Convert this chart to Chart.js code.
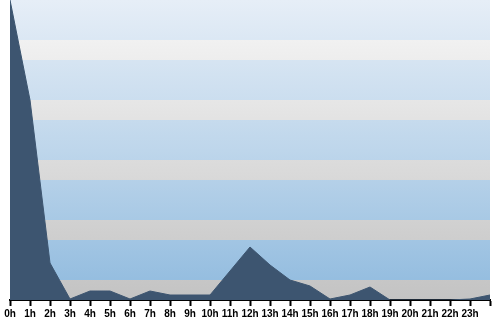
<!DOCTYPE html>
<html><head><meta charset="utf-8">
<script src="https://cdn.jsdelivr.net/npm/chart.js@4/dist/chart.umd.min.js"></script>
<style>html,body{margin:0;padding:0;background:#fff}#wrap{width:500px;height:320px}</style>
</head><body><div id="wrap"><canvas id="c" width="500" height="320"></canvas></div>
<script>
const hours = [0,1,2,3,4,5,6,7,8,9,10,11,12,13,14,15,16,17,18,19,20,21,22,23,24];
const values = [300,200,37,1,9,9,1,9,5,5,5,29,53,35,20,14,1,5,13,0,0,0,0,1,5];
const tickSuffix = 'h';

const bandPlugin = {
  id:'bands',
  beforeDraw(chart){
    const {ctx, chartArea:a} = chart;
    const h = a.bottom - a.top;
    const blue = ctx.createLinearGradient(0,a.top,0,a.bottom);
    blue.addColorStop(0,'#e6eef7'); blue.addColorStop(0.5,'#bed6eb'); blue.addColorStop(1,'#8fbade');
    const gray = ctx.createLinearGradient(0,a.top,0,a.bottom);
    gray.addColorStop(0,'#f8f8f8'); gray.addColorStop(1,'#c3c3c3');
    ctx.save();
    const n = 5, period = h/n;
    for(let i=0;i<n;i++){
      const y0 = a.top + i*period;
      ctx.fillStyle = blue; ctx.fillRect(a.left,y0,a.right-a.left,period*2/3);
      ctx.fillStyle = gray; ctx.fillRect(a.left,y0+period*2/3,a.right-a.left,period/3);
    }
    ctx.restore();
  }
};

new Chart(document.getElementById('c'),{
  type:'line',
  data:{datasets:[{data:hours.map((h,i)=>({x:h,y:values[i]})),
    borderColor:'#3d5570',backgroundColor:'#3d5570',borderWidth:1,fill:'origin',pointRadius:0,tension:0}]},
  options:{
    responsive:false,animation:false,
    layout:{padding:{left:10,right:10,top:0,bottom:0}},
    plugins:{legend:{display:false},tooltip:{enabled:false}},
    scales:{
      x:{type:'linear',min:0,max:24,
        afterFit(s){ s.height = 20; },
        ticks:{stepSize:1,autoSkip:false,maxRotation:0,padding:2,color:'#000',
          font:{family:'"Liberation Sans",Arial',size:10,weight:'bold'},
          callback:v=> v<24 ? v+tickSuffix : ''},
        grid:{drawOnChartArea:false,drawTicks:true,tickLength:6,tickWidth:2,tickColor:'#000'},
        border:{display:true,color:'#000',width:2}},
      y:{display:false,min:0,max:300}
    }
  },
  plugins:[bandPlugin]
});
</script></body></html>
